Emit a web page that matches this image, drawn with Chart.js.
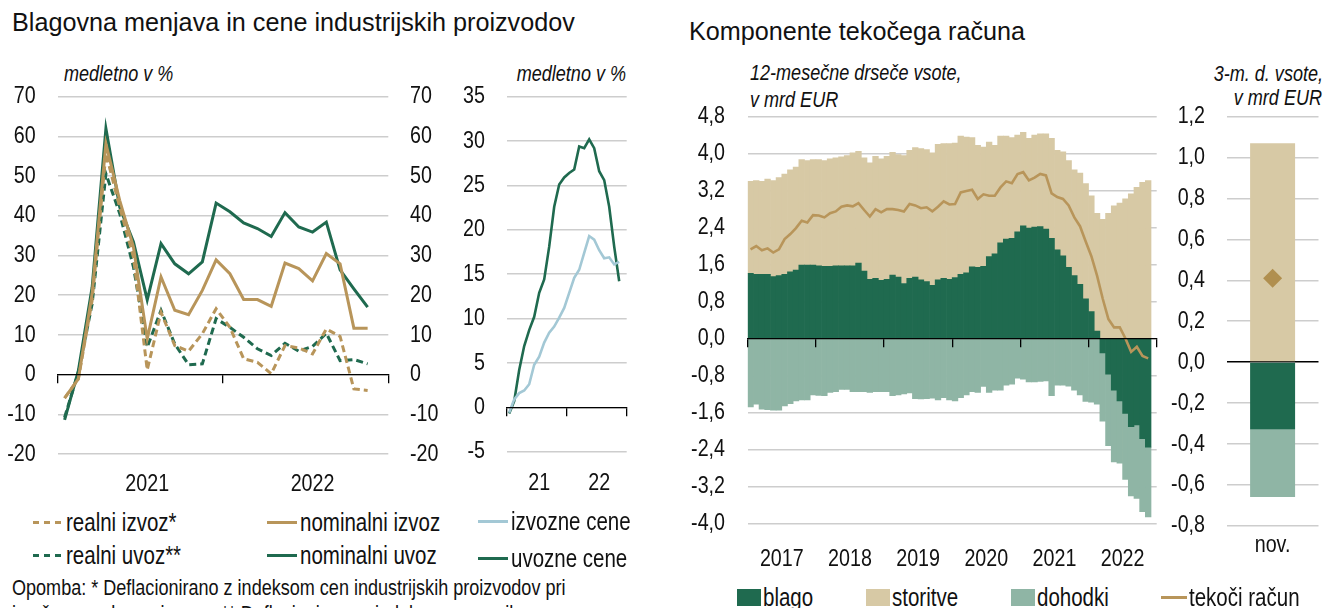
<!DOCTYPE html>
<html>
<head>
<meta charset="utf-8">
<script src="https://cdn.jsdelivr.net/npm/chart.js@4.4.1/dist/chart.umd.min.js"></script>
<style>
  html, body { margin: 0; padding: 0; background: #fff; }
  body { width: 1328px; height: 608px; position: relative; overflow: hidden; color: #111;
         font-family: "Liberation Sans", Arial, sans-serif; }
  canvas { position: absolute; top: 0; }
  .title { position: absolute; font-size: 25.2px; line-height: 28px; white-space: nowrap; }
  /* ozka pisava: Arial Narrow ni na voljo, zato stisnemo Liberation Sans */
  .nl { transform: scaleX(0.82); transform-origin: left center; }
  .nr { transform: scaleX(0.82); transform-origin: right center; }
  .note { position: absolute; font-style: italic; font-size: 22px; line-height: 24px; white-space: nowrap; }
  .leg { position: absolute; height: 28px; display: flex; align-items: center; font-size: 25px; line-height: 28px; white-space: nowrap; }
  .leg .ln { display: inline-block; width: 30px; height: 3px; margin-right: 3px; flex: none; }
  .leg .sq { display: inline-block; width: 24px; height: 17px; margin-right: 2px; flex: none; }
  .leg .tx { display: inline-block; transform: scaleX(0.82); transform-origin: left center; }
  .foot { position: absolute; left: 12px; font-size: 22px; line-height: 26px; white-space: nowrap; }
</style>
</head>
<body>

<div class="title" style="left:12px; top:8px;">Blagovna menjava in cene industrijskih proizvodov</div>
<div class="title" style="left:689px; top:17px;">Komponente tekočega računa</div>

<div class="note nl" style="left:64px; top:62px;">medletno v %</div>
<div class="note nr" style="left:426px; width:200px; text-align:right; top:62px;">medletno v %</div>
<div class="note nl" style="left:750px; top:61px;">12-mesečne drseče vsote,</div>
<div class="note nl" style="left:750px; top:88px;">v mrd EUR</div>
<div class="note nr" style="left:1123px; width:200px; text-align:right; top:62px;">3-m. d. vsote,</div>
<div class="note nr" style="left:1122px; width:200px; text-align:right; top:86px;">v mrd EUR</div>

<canvas id="chartA" width="450" height="500" style="left:0px;"></canvas>
<canvas id="chartB" width="200" height="500" style="left:440px;"></canvas>
<canvas id="chartC" width="490" height="570" style="left:680px;"></canvas>
<canvas id="chartD" width="168" height="570" style="left:1160px;"></canvas>

<!-- legenda levo -->
<div class="leg" style="left:33px; top:508px;"><span class="ln" style="background:repeating-linear-gradient(to right,#b8955a 0 6px,transparent 6px 11px);"></span><span class="tx">realni izvoz*</span></div>
<div class="leg" style="left:267px; top:508px;"><span class="ln" style="background:#b8955a;"></span><span class="tx">nominalni izvoz</span></div>
<div class="leg" style="left:478px; top:507px;"><span class="ln" style="background:#a3c8d5;"></span><span class="tx">izvozne cene</span></div>
<div class="leg" style="left:33px; top:541px;"><span class="ln" style="background:repeating-linear-gradient(to right,#1f6a4f 0 6px,transparent 6px 11px);"></span><span class="tx">realni uvoz**</span></div>
<div class="leg" style="left:267px; top:541px;"><span class="ln" style="background:#1f6a4f;"></span><span class="tx">nominalni uvoz</span></div>
<div class="leg" style="left:478px; top:544px;"><span class="ln" style="background:#1f6a4f;"></span><span class="tx">uvozne cene</span></div>

<div class="foot nl" style="top:575px;">Opomba: * Deflacionirano z indeksom cen industrijskih proizvodov pri</div>
<div class="foot nl" style="top:601px;">izračunu realnega izvoza. ** Deflacionirano z indeksom uvoznih cen.</div>

<!-- legenda desno -->
<div class="leg" style="left:737px; top:583px;"><span class="sq" style="background:#1f6a4f;"></span><span class="tx">blago</span></div>
<div class="leg" style="left:866px; top:583px;"><span class="sq" style="background:#d7c9a5;"></span><span class="tx">storitve</span></div>
<div class="leg" style="left:1011px; top:583px;"><span class="sq" style="background:#8fb5a5;"></span><span class="tx">dohodki</span></div>
<div class="leg" style="left:1161px; top:583px;"><span class="ln" style="background:#b8955a; width:26px; margin-right:2px;"></span><span class="tx">tekoči račun</span></div>

<script>
// ---- podatki: blagovna menjava (jan 2021 - nov 2022), medletno v %
const yearsA = ['2021', '2022'];
const realniIzvoz    = [-5.9, -1.1, 18.7, 55.7, 42.2, 29.6, 1.2, 15.7, 7.3, 5.9, 10.3, 16.6, 11.9, 4.0, 3.1, 0.2, 7.3, 6.7, 5.2, 11.5, 9.6, -3.6, -4.0];
const nominalniIzvoz = [-5.9, -1.1, 20.4, 58.2, 43.9, 32.1, 9.0, 24.6, 16.2, 15.1, 21.2, 28.9, 25.4, 18.9, 18.9, 17.2, 28.1, 26.7, 23.6, 30.5, 27.9, 11.7, 11.7];
const realniUvoz     = [-10.8, 0.6, 17.8, 50.6, 40.6, 27.1, 6.9, 16.2, 7.7, 2.5, 2.7, 14.1, 11.9, 9.4, 6.5, 4.8, 7.9, 5.9, 7.1, 10.4, 3.5, 3.8, 2.7];
const nominalniUvoz  = [-11.4, 1.0, 22.0, 62.0, 42.2, 33.4, 18.8, 33.0, 27.9, 25.4, 28.4, 43.2, 41.0, 38.2, 36.8, 34.8, 40.8, 37.2, 35.9, 38.4, 26.4, 21.6, 17.0];

// ---- cene industrijskih proizvodov (jan 2021 - nov 2022)
const yearsB = ['21', '22'];
const izvozneCene = [-0.6, 0.9, 1.6, 1.9, 2.6, 4.8, 5.7, 7.3, 8.4, 9.1, 10.1, 11.2, 12.9, 14.6, 15.5, 17.4, 19.3, 18.9, 17.7, 16.8, 16.9, 16.1, 16.4];
const uvozneCene  = [-0.7, 0.7, 4.2, 6.9, 8.7, 10.2, 12.9, 14.4, 18.1, 22.6, 25.1, 25.9, 26.4, 26.8, 29.4, 29.2, 30.2, 29.2, 26.6, 25.6, 22.6, 18.1, 14.2];

// ---- komponente tekočega računa, 12-mesečne drseče vsote (jan 2017 - nov 2022)
const yearsC = ['2017', '2018', '2019', '2020', '2021', '2022'];
const blago = [
  1.41, 1.39, 1.39, 1.39, 1.34, 1.36, 1.39, 1.44, 1.48, 1.59, 1.59, 1.59,
  1.57, 1.56, 1.56, 1.57, 1.57, 1.57, 1.57, 1.63, 1.46, 1.28, 1.30, 1.26,
  1.28, 1.37, 1.33, 1.19, 1.30, 1.33, 1.27, 1.23, 1.15, 1.27, 1.30, 1.28,
  1.32, 1.39, 1.42, 1.55, 1.54, 1.56, 1.77, 1.83, 2.07, 2.15, 2.17, 2.31,
  2.44, 2.39, 2.41, 2.42, 2.37, 2.17, 1.92, 1.79, 1.54, 1.36, 1.17, 0.86,
  0.58, 0.16, -0.31, -0.77, -1.12, -1.35, -1.62, -1.91, -1.87, -2.17, -2.35
];
const storitve = [
  1.99, 2.03, 2.01, 2.06, 2.08, 2.12, 2.17, 2.21, 2.23, 2.28, 2.26, 2.28,
  2.30, 2.29, 2.33, 2.34, 2.36, 2.39, 2.45, 2.42, 2.45, 2.52, 2.64, 2.63,
  2.66, 2.66, 2.65, 2.77, 2.77, 2.80, 2.84, 2.86, 2.87, 2.93, 2.92, 2.94,
  2.91, 2.99, 2.94, 2.80, 2.64, 2.58, 2.48, 2.35, 2.31, 2.23, 2.18, 2.09,
  2.02, 1.94, 1.99, 2.01, 2.06, 2.16, 2.15, 2.25, 2.31, 2.29, 2.41, 2.49,
  2.51, 2.55, 2.58, 2.71, 2.87, 2.93, 3.02, 3.13, 3.27, 3.38, 3.42
];
const dohodki = [
  -1.48, -1.42, -1.53, -1.54, -1.55, -1.55, -1.46, -1.41, -1.35, -1.33, -1.33, -1.22,
  -1.23, -1.24, -1.17, -1.15, -1.10, -1.10, -1.15, -1.15, -1.15, -1.17, -1.15, -1.15,
  -1.15, -1.24, -1.22, -1.20, -1.18, -1.30, -1.31, -1.30, -1.29, -1.33, -1.28, -1.33,
  -1.35, -1.28, -1.22, -1.15, -1.17, -1.04, -1.17, -1.12, -1.12, -1.01, -0.99, -0.86,
  -0.88, -0.94, -0.94, -0.93, -0.92, -1.24, -1.01, -1.01, -1.03, -1.12, -1.22, -1.36,
  -1.38, -1.42, -1.48, -1.55, -1.55, -1.35, -1.43, -1.50, -1.59, -1.58, -1.51
];
const tekociRacun = [
  1.93, 2.00, 1.91, 1.95, 1.86, 1.93, 2.15, 2.26, 2.39, 2.55, 2.51, 2.67,
  2.66, 2.62, 2.71, 2.75, 2.85, 2.88, 2.86, 2.93, 2.78, 2.64, 2.80, 2.73,
  2.80, 2.80, 2.78, 2.75, 2.91, 2.88, 2.82, 2.84, 2.75, 2.85, 2.97, 2.90,
  2.91, 3.16, 3.19, 3.22, 3.02, 3.12, 3.09, 3.09, 3.27, 3.40, 3.36, 3.56,
  3.60, 3.42, 3.48, 3.56, 3.53, 3.14, 3.06, 3.02, 2.88, 2.62, 2.43, 2.10,
  1.78, 1.36, 0.86, 0.42, 0.24, 0.24, 0.00, -0.29, -0.18, -0.38, -0.43
];

// ---- 3-mesečne drseče vsote, november
const labelsD = ['nov.'];
const novBlago = [-0.33];
const novStoritve = [1.07];
const novDohodki = [-0.33];
const novTekoci = [0.41];

const GREEN = '#1f6a4f', GOLD = '#b8955a', BEIGE = '#d7c9a5', LGREEN = '#8fb5a5', LBLUE = '#a3c8d5';
const GRID = '#cdcdcd';
const NARROW = 0.82;

Chart.defaults.font.family = "'Liberation Sans', Arial, sans-serif";
Chart.defaults.font.size = 24;
Chart.defaults.color = '#111';
Chart.defaults.animation = false;
Chart.defaults.events = [];
Chart.defaults.plugins.legend.display = false;
Chart.defaults.plugins.tooltip.enabled = false;

/* oznake na oseh stisnemo vodoravno okoli sidrne točke (kot Arial Narrow) */
Chart.register({
  id: 'narrowText',
  beforeDraw(chart) {
    const ctx = chart.ctx;
    if (ctx._narrow) return;
    const orig = ctx.fillText.bind(ctx);
    ctx.fillText = (text, x, y) => {
      ctx.save();
      ctx.translate(x, y);
      ctx.scale(NARROW, 1);
      orig(text, 0, 0);
      ctx.restore();
    };
    ctx._narrow = true;
  }
});

// mesec i -> sredina meseca na linearni osi
const pts = arr => arr.map((v, i) => ({ x: i + 0.5, y: v }));
const comma = v => v.toFixed(1).replace('.', ',');

function lineSet(arr, color, dashed, width) {
  return {
    data: pts(arr), borderColor: color, borderWidth: width || 3,
    borderDash: dashed ? [7, 4] : [], pointRadius: 0, tension: 0, fill: false
  };
}

// os z letnicami spodaj + ničelna os s kljukicami
function yearAxes(nMonths, labels, at, pad, h) {
  return {
    x: {
      type: 'linear', min: 0, max: nMonths, offset: false,
      afterBuildTicks: s => { s.ticks = labels.map((_, i) => ({ value: at + 12 * i })); },
      ticks: { callback: (v, i) => labels[i], padding: pad, maxRotation: 0, minRotation: 0, autoSkip: false },
      grid: { display: false, offset: false }, border: { display: false },
      afterFit: s => { s.height = h; }
    },
    x0: {
      type: 'linear', axis: 'x', min: 0, max: nMonths, offset: false, position: { y: 0 },
      ticks: { display: false, stepSize: 12 },
      grid: { drawOnChartArea: false, color: '#000', tickLength: 8, lineWidth: 1.3, offset: false, z: 1 },
      border: { color: '#000', width: 1.3, z: 1 }
    }
  };
}

/* ================= BLAGOVNA MENJAVA ================= */
new Chart(document.getElementById('chartA'), {
  type: 'line',
  data: { datasets: [
    lineSet(realniIzvoz, GOLD, true),
    lineSet(nominalniIzvoz, GOLD, false),
    lineSet(realniUvoz, GREEN, true),
    lineSet(nominalniUvoz, GREEN, false)
  ]},
  options: {
    responsive: false, maintainAspectRatio: false,
    layout: { padding: { top: 96.7, right: 0, bottom: 0, left: 0 } },
    scales: Object.assign(yearAxes(24, yearsA, 6.5, 8, 46), {
      y: {
        min: -20, max: 70, ticks: { stepSize: 10, padding: 22 },
        grid: { color: GRID, lineWidth: 1.5, drawTicks: false }, border: { display: false },
        afterFit: s => { s.width = 57.7; }
      },
      y2: {
        position: 'right', min: -20, max: 70, ticks: { stepSize: 10, padding: 21.7 },
        grid: { display: false, drawTicks: false }, border: { display: false },
        afterFit: s => { s.width = 61.7; }
      }
    })
  }
});

/* ================= CENE ================= */
new Chart(document.getElementById('chartB'), {
  type: 'line',
  data: { datasets: [
    lineSet(izvozneCene, LBLUE, false, 2.6),
    lineSet(uvozneCene, GREEN, false, 2.6)
  ]},
  options: {
    responsive: false, maintainAspectRatio: false,
    layout: { padding: { top: 96.7, right: 13.3, bottom: 0, left: 0 } },
    scales: Object.assign(yearAxes(24, yearsB, 6.5, 9, 48.3), {
      y: {
        min: -5, max: 35, ticks: { stepSize: 5, padding: 21.7 },
        grid: { color: GRID, lineWidth: 1.5, drawTicks: false }, border: { display: false },
        afterFit: s => { s.width = 66.7; }
      }
    })
  }
});

/* ================= TEKOČI RAČUN ================= */
new Chart(document.getElementById('chartC'), {
  type: 'bar',
  data: { datasets: [
    { type: 'line', label: 'tekoči račun', data: pts(tekociRacun), stack: 'tr', order: 0,
      borderColor: GOLD, borderWidth: 2.6, pointRadius: 0, tension: 0 },
    { label: 'blago', data: pts(blago), backgroundColor: GREEN, stack: 'ca', order: 1 },
    { label: 'storitve', data: pts(storitve), backgroundColor: BEIGE, stack: 'ca', order: 1 },
    { label: 'dohodki', data: pts(dohodki), backgroundColor: LGREEN, stack: 'ca', order: 1 }
  ]},
  options: {
    responsive: false, maintainAspectRatio: false,
    barPercentage: 1, categoryPercentage: 1, borderWidth: 0,
    layout: { padding: { top: 116.7, right: 13.3, bottom: 0, left: 0 } },
    scales: Object.assign(yearAxes(72, yearsC, 6, 14, 46.7), {
      y: {
        stacked: true, min: -4, max: 4.8,
        ticks: { stepSize: 0.8, padding: 22.7, callback: comma },
        grid: { color: GRID, lineWidth: 1.5, drawTicks: false }, border: { display: false },
        afterFit: s => { s.width = 67.7; }
      }
    })
  }
});

/* ================= NOVEMBER ================= */
new Chart(document.getElementById('chartD'), {
  type: 'bar',
  data: { labels: labelsD, datasets: [
    { type: 'line', data: novTekoci, stack: 'tr', order: 0, showLine: false,
      pointStyle: 'rectRot', pointRadius: 9.5, pointBackgroundColor: '#b08f4f', pointBorderWidth: 0 },
    { data: novBlago, backgroundColor: GREEN, stack: 'ca', order: 1 },
    { data: novStoritve, backgroundColor: BEIGE, stack: 'ca', order: 1 },
    { data: novDohodki, backgroundColor: LGREEN, stack: 'ca', order: 1 }
  ]},
  options: {
    responsive: false, maintainAspectRatio: false,
    barPercentage: 0.49, categoryPercentage: 1,
    layout: { padding: { top: 116.7, right: 2.3, bottom: 0, left: 0 } },
    scales: {
      x: {
        ticks: { padding: -3, maxRotation: 0 }, grid: { display: false }, border: { display: false },
        afterFit: s => { s.height = 44.3; }
      },
      y: {
        stacked: true, min: -0.8, max: 1.2,
        ticks: { stepSize: 0.2, padding: 21.7, callback: comma },
        grid: { color: c => (c.tick && Math.abs(c.tick.value) < 1e-9) ? '#000' : GRID, lineWidth: 1.5, drawTicks: false },
        border: { display: false },
        afterFit: s => { s.width = 66.7; }
      }
    }
  }
});
</script>
</body>
</html>
